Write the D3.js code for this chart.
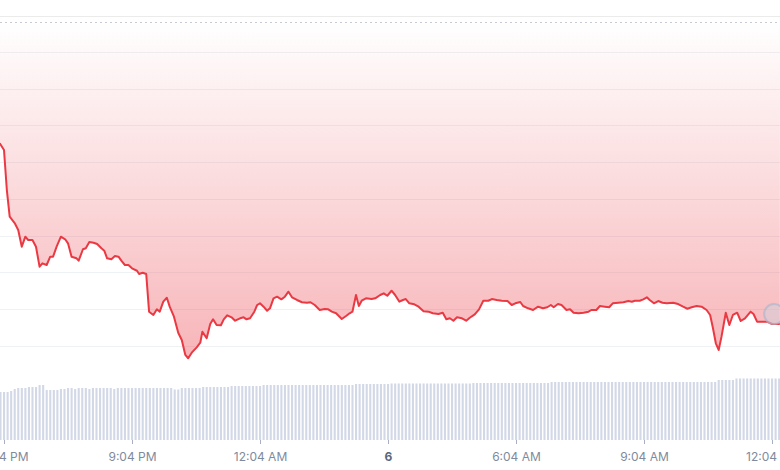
<!DOCTYPE html>
<html>
<head>
<meta charset="utf-8">
<title>Price chart</title>
<style>
  body { margin: 0; background: #fff; }
  svg { display: block; font-family: Inter, "Noto Sans", sans-serif; }
</style>
</head>
<body>
<svg></svg>
<script src="https://d3js.org/d3.v7.min.js"></script>
<script>
// minutes after 6:04 PM and the price read at that moment
var priceMinutes = [-6, 0, 4, 8, 15, 20, 25, 30, 34, 40,
    45, 50, 54, 60, 65, 69, 74, 80, 86, 90,
    95, 102, 105, 111, 115, 120, 126, 131, 137, 141,
    145, 151, 156, 161, 165, 170, 175, 180, 187, 190,
    195, 200, 204, 210, 215, 219, 224, 229, 233, 239,
    245, 250, 255, 259, 264, 271, 276, 279, 285, 290,
    294, 299, 305, 309, 314, 320, 325, 332, 337, 341,
    346, 352, 356, 360, 365, 370, 374, 379, 384, 390,
    395, 400, 405, 412, 419, 426, 431, 437, 444, 451,
    456, 461, 467, 475, 481, 486, 490, 495, 499, 503,
    509, 517, 522, 529, 534, 539, 545, 550, 556, 561,
    565, 570, 577, 583, 590, 597, 603, 611, 617, 622,
    627, 632, 637, 644, 650, 655, 662, 668, 674, 681,
    686, 693, 700, 708, 714, 719, 726, 730, 737, 744,
    751, 758, 764, 769, 773, 779, 784, 791, 796, 801,
    808, 815, 822, 826, 833, 838, 845, 851, 856, 864,
    871, 878, 883, 887, 894, 899, 904, 908, 914, 920,
    926, 932, 941, 948, 955, 961, 967, 974, 981, 988,
    993, 997, 1001, 1005, 1009, 1015, 1020, 1025, 1031, 1036,
    1042, 1050, 1054, 1059, 1065, 1073, 1080, 1087, 1091];

var prices = [2.6758, 2.6667, 2.6122, 2.5759, 2.5673, 2.5578, 2.5351, 2.5487, 2.5442, 2.5442,
    2.5351, 2.5079, 2.5125, 2.5102, 2.5215, 2.5215, 2.5351, 2.5487, 2.5452, 2.5397,
    2.5215, 2.5193, 2.5161, 2.5316, 2.5329, 2.5415, 2.5405, 2.5388, 2.5329, 2.5297,
    2.5193, 2.5180, 2.5224, 2.5215, 2.5161, 2.5102, 2.5102, 2.5057, 2.5024, 2.4980,
    2.4997, 2.4980, 2.4467, 2.4422, 2.4499, 2.4467, 2.4603, 2.4657, 2.4535, 2.4399,
    2.4181, 2.4082, 2.3878, 2.3833, 2.3909, 2.3982, 2.4045, 2.4195, 2.4105, 2.4299,
    2.4363, 2.4286, 2.4282, 2.4363, 2.4418, 2.4390, 2.4344, 2.4377, 2.4390, 2.4363,
    2.4377, 2.4467, 2.4558, 2.4581, 2.4535, 2.4480, 2.4513, 2.4649, 2.4671, 2.4635,
    2.4671, 2.4739, 2.4663, 2.4626, 2.4595, 2.4589, 2.4595, 2.4558, 2.4490, 2.4503,
    2.4499, 2.4467, 2.4445, 2.4367, 2.4408, 2.4445, 2.4467, 2.4694, 2.4544, 2.4616,
    2.4649, 2.4639, 2.4649, 2.4694, 2.4717, 2.4684, 2.4752, 2.4694, 2.4603, 2.4626,
    2.4639, 2.4581, 2.4567, 2.4535, 2.4472, 2.4467, 2.4445, 2.4435, 2.4453, 2.4363,
    2.4377, 2.4344, 2.4390, 2.4377, 2.4344, 2.4385, 2.4431, 2.4499, 2.4616, 2.4616,
    2.4639, 2.4626, 2.4616, 2.4612, 2.4558, 2.4581, 2.4599, 2.4544, 2.4513, 2.4490,
    2.4535, 2.4513, 2.4527, 2.4558, 2.4527, 2.4571, 2.4558, 2.4490, 2.4499, 2.4453,
    2.4445, 2.4453, 2.4467, 2.4490, 2.4490, 2.4544, 2.4535, 2.4527, 2.4581, 2.4589,
    2.4595, 2.4612, 2.4603, 2.4616, 2.4616, 2.4635, 2.4663, 2.4626, 2.4581, 2.4612,
    2.4589, 2.4581, 2.4589, 2.4571, 2.4535, 2.4507, 2.4527, 2.4544, 2.4535, 2.4490,
    2.4422, 2.4241, 2.4037, 2.3946, 2.4127, 2.4453, 2.4286, 2.4422, 2.4453, 2.4340,
    2.4377, 2.4467, 2.4435, 2.4331, 2.4331, 2.4331, 2.4299, 2.4299, 2.4299];

// 5-minute volume bars, first bar at minute -5
var volumeStart = -5;
var volumeStep = 5;
var volumes = [48, 48, 48, 49, 51, 52, 52, 52, 53, 53,
    53, 55, 55, 50, 50, 50, 50, 51, 51, 52,
    52, 51, 52, 52, 52, 51, 52, 52, 52, 52,
    52, 52, 51, 52, 52, 52, 52, 52, 52, 52,
    52, 52, 52, 52, 52, 52, 52, 52, 52, 50.5,
    50.5, 52, 52, 52, 52, 52, 52, 53, 53, 53,
    53, 53, 53, 53, 53, 54, 54, 54, 54, 54,
    54, 54, 54, 54, 55, 55, 55, 55, 55, 55,
    55, 55, 55, 55, 55, 55, 55, 55, 55, 55,
    55, 55, 55, 55, 55, 55, 55, 55, 55, 55,
    56, 56, 56, 56, 56, 56, 56, 56, 56, 56,
    56.5, 56.5, 56.5, 56.5, 56.5, 56.5, 56.5, 56.5, 56.5, 56.5,
    56.5, 56.5, 56.5, 56.5, 56.5, 56.5, 56.5, 56.5, 56.5, 56.5,
    56.5, 56.5, 56.5, 57, 57, 57, 57, 57, 57, 57,
    57, 57, 57, 57, 57, 57, 57, 57, 57, 57,
    57, 57, 57, 57, 57, 58, 58, 58, 58, 58,
    58, 58, 58, 58, 58, 58, 58, 58, 58, 58,
    58, 58, 58, 58, 58, 58, 58, 58, 58, 58,
    58, 58, 58, 58, 58, 58, 58, 58, 58, 58,
    58, 58, 58, 58, 58, 58, 58, 58, 58, 58,
    58, 58, 60, 60, 60, 60, 60, 61.5, 61.5, 61.5,
    61.5, 61.5, 61.5, 61.5, 61.5, 61.5, 61.5, 61.5, 61.5, 61.5];

var gridPrices = [2.40, 2.45, 2.50, 2.55, 2.60, 2.65, 2.70, 2.75, 2.80];
var highPrice = 2.841;
var tickMinutes = [0, 180, 360, 540, 720, 900, 1080];
var tickLabels = ["6:04 PM", "9:04 PM", "12:04 AM", "6", "6:04 AM", "9:04 AM", "12:04 PM"];
var markerMinute = 1083, markerPrice = 2.4435;

var width = 780, height = 470;
var red = "#ea3943";
var start = new Date(2024, 2, 5, 18, 4);
function at(m) { return new Date(+start + m * 60000); }

var x = d3.scaleTime().domain([at(0), at(1080)]).range([4, 772]);
var y = d3.scaleLinear().domain([2.40, 2.80]).range([346, 52]);
var yVol = d3.scaleLinear().domain([0, 60]).range([440, 380]);

var svg = d3.select("svg").attr("width", width).attr("height", height);

var grad = svg.append("defs").append("linearGradient")
    .attr("id", "fade").attr("gradientUnits", "userSpaceOnUse")
    .attr("x1", 0).attr("x2", 0).attr("y1", y(highPrice)).attr("y2", 362);
grad.append("stop").attr("offset", "0%").attr("stop-color", red).attr("stop-opacity", 0);
grad.append("stop").attr("offset", "100%").attr("stop-color", red).attr("stop-opacity", 0.38);

// frame line and grid
svg.append("line").attr("x1", 0).attr("x2", width).attr("y1", 16.5).attr("y2", 16.5)
    .attr("stroke", "#ebebeb");
svg.append("g").selectAll("line").data(gridPrices).join("line")
    .attr("x1", 0).attr("x2", width)
    .attr("y1", d => Math.round(y(d)) + 0.5).attr("y2", d => Math.round(y(d)) + 0.5)
    .attr("stroke", "#eff2f5");
svg.append("line").attr("x1", 0).attr("x2", width)
    .attr("y1", Math.round(y(highPrice)) + 0.5).attr("y2", Math.round(y(highPrice)) + 0.5)
    .attr("stroke", "#c6cad2").attr("stroke-dasharray", "2,3");

var pts = d3.zip(priceMinutes, prices).map(d => ({ t: at(d[0]), p: d[1] }));

var area = d3.area().x(d => x(d.t)).y0(y(highPrice)).y1(d => y(d.p));
svg.append("path").datum(pts).attr("d", area).attr("fill", "url(#fade)");

// volume bars
svg.append("g").selectAll("rect").data(volumes).join("rect")
    .attr("x", (d, i) => x(at(volumeStart + i * volumeStep)) - 1)
    .attr("width", 2.1)
    .attr("y", d => yVol(d))
    .attr("height", d => yVol(0) - yVol(d))
    .attr("fill", "#d3d8e7");

var line = d3.line().x(d => x(d.t)).y(d => y(d.p));
svg.append("path").datum(pts).attr("d", line)
    .attr("fill", "none").attr("stroke", red)
    .attr("stroke-width", 2).attr("stroke-linejoin", "round");

// pulsing end marker
svg.append("circle")
    .attr("cx", x(at(markerMinute))).attr("cy", y(markerPrice)).attr("r", 10)
    .attr("fill", "rgba(205,210,225,0.45)")
    .attr("stroke", "rgba(175,182,204,0.7)").attr("stroke-width", 2);

var axis = svg.append("g").attr("transform", "translate(0,440)")
    .call(d3.axisBottom(x)
        .tickValues(tickMinutes.map(at))
        .tickFormat((d, i) => tickLabels[i])
        .tickSize(4).tickPadding(8));
axis.select(".domain").remove();
axis.selectAll(".tick line").attr("stroke", "#a6b0c3");
axis.selectAll(".tick text")
    .attr("font-family", "Inter, sans-serif")
    .attr("font-size", 12)
    .attr("fill", (d, i) => tickLabels[i] === "6" ? "#58667e" : "#808a9d")
    .attr("font-weight", (d, i) => tickLabels[i] === "6" ? 700 : 400);
</script>
</body>
</html>
